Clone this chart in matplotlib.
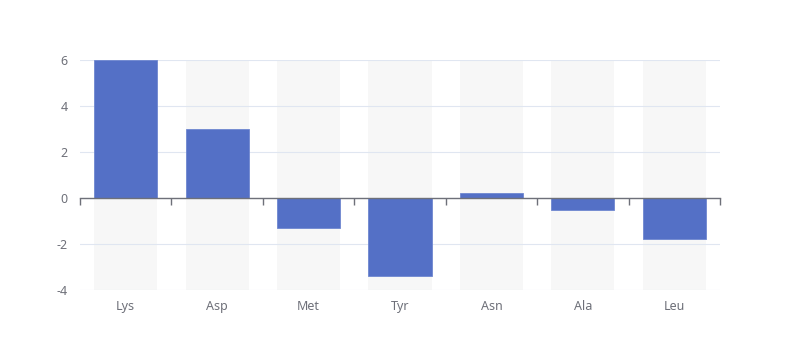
import matplotlib
matplotlib.use("Agg")
import matplotlib.pyplot as plt
import numpy as np

categories = ["Lys", "Asp", "Met", "Tyr", "Asn", "Ala", "Leu"]
values = [6, 3, -1.3, -3.4, 0.2, -0.5, -1.8]
yticks = [-4, -2, 0, 2, 4, 6]

plt.rcParams['font.family'] = ['Noto Sans', 'DejaVu Sans']
plt.rcParams['axes.unicode_minus'] = False

fig = plt.figure(figsize=(8, 3.6), dpi=100)
ax = fig.add_axes([0.1, 70/360, 0.8, 230/360])

x = np.arange(len(categories))
ymin, ymax = -4, 6
width = 0.69
ax.bar(x, [ymax - ymin] * len(x), bottom=ymin, width=width, color="#f7f7f7", zorder=1)
ax.bar(x, values, width=width, color="#5470c6", edgecolor="#6f87d0", linewidth=0.6, zorder=3)

ax.set_xlim(-0.5, len(categories) - 0.5)
ax.set_ylim(ymin, ymax)
ax.set_yticks(yticks)
ax.set_axisbelow(False)
ax.yaxis.grid(True, color="#e0e6f1", linewidth=0.8)
for s in ax.spines.values():
    s.set_visible(False)

ax.set_xticks(x)
ax.set_xticklabels(categories)
ax.tick_params(axis='x', length=0, pad=7, labelsize=9, labelcolor="#6e7079")
ax.tick_params(axis='y', length=0, pad=9, labelsize=9, labelcolor="#6e7079")

# zero axis line with boundary ticks
sec = ax.secondary_xaxis((0 - ymin) / (ymax - ymin))
sec.set_xticks(np.arange(len(categories) + 1) - 0.5)
sec.set_xticklabels([])
sec.tick_params(axis='x', length=5, width=1, color="#6e7079", direction='out')
sec.spines['bottom'].set_color("#6e7079")
sec.spines['bottom'].set_linewidth(1)
sec.set_zorder(4)

fig.savefig("out.png", dpi=100)
